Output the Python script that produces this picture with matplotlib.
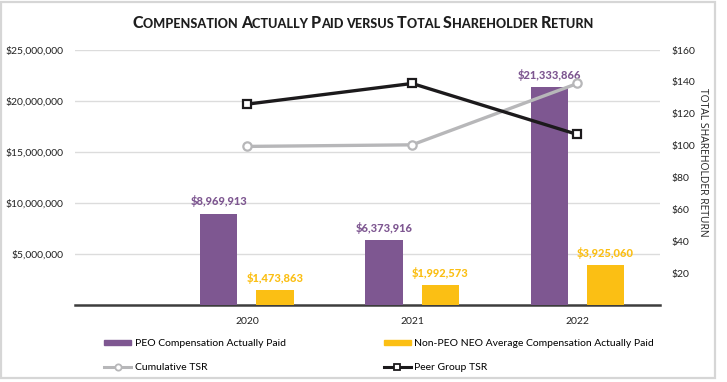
import matplotlib
matplotlib.use("Agg")
import matplotlib.pyplot as plt
from matplotlib.lines import Line2D
from matplotlib.patches import Patch, Rectangle
import matplotlib.ticker as mticker
import numpy as np

years = ["2020", "2021", "2022"]
peo_cap = [8969913, 6373916, 21333866]
neo_cap = [1473863, 1992573, 3925060]
cumulative_tsr = [99.5, 100.5, 139]
peer_tsr = [126, 139, 107]
left_ticks = [5000000, 10000000, 15000000, 20000000, 25000000]
right_ticks = [20, 40, 60, 80, 100, 120, 140, 160]

PURPLE = "#7e5791"
YELLOW = "#fbbf14"
GREY = "#b7b7b9"
BLACK = "#1c1a1c"
FONT = "Lato"

plt.rcParams["font.family"] = [FONT, "DejaVu Sans"]

W, H = 727, 382
fig = plt.figure(figsize=(W / 100, H / 100), dpi=100)

def px(x0, y0, x1, y1):
    return [x0 / W, 1 - y1 / H, (x1 - x0) / W, (y1 - y0) / H]

ax = fig.add_axes(px(75, 50, 660, 305))
ax2 = ax.twinx()

x = np.arange(len(years))
bw = 0.225
off = 0.17
ax.bar(x - off, peo_cap, bw, color=PURPLE, zorder=3)
ax.bar(x + off, neo_cap, bw, color=YELLOW, zorder=3)
for xi, v in zip(x, peo_cap):
    ax.text(xi - off, v + 600000, f"${v:,.0f}", ha="center", va="bottom",
            fontsize=8, fontweight="black", color=PURPLE, zorder=4)
for xi, v in zip(x, neo_cap):
    ax.text(xi + off, v + 600000, f"${v:,.0f}", ha="center", va="bottom",
            fontsize=8, fontweight="black", color=YELLOW, zorder=4)

ax.set_xlim(-1.04, 2.5)
ax.set_ylim(0, 25000000)
ax.set_yticks(left_ticks)
ax.yaxis.set_major_formatter(mticker.FuncFormatter(lambda v, p: f"${v:,.0f}"))
ax.set_xticks(x)
ax.set_xticklabels(years)
ax.grid(axis="y", color="#dcdcdc", linewidth=1.0, zorder=0)
ax.set_axisbelow(True)
for s in ["top", "right", "left"]:
    ax.spines[s].set_visible(False)
ax.spines["bottom"].set_color("#3d3d3d")
ax.spines["bottom"].set_linewidth(1.8)
ax.tick_params(axis="both", length=0, labelsize=7.5, colors="#222222")
ax.tick_params(axis="y", pad=8)
ax.tick_params(axis="x", pad=9)

ax2.plot(x, cumulative_tsr, color=GREY, lw=2.4, marker="o", ms=6,
         mfc="white", mec=GREY, mew=1.6, zorder=5)
ax2.plot(x, peer_tsr, color=BLACK, lw=2.4, marker="s", ms=5.5,
         mfc="white", mec=BLACK, mew=1.6, zorder=6)
ax2.set_ylim(0, 160)
ax2.set_yticks(right_ticks)
ax2.yaxis.set_major_formatter(mticker.FuncFormatter(lambda v, p: f"${v:.0f}"))
ax2.tick_params(axis="y", length=0, labelsize=7.5, colors="#222222", pad=8)
for s in ["top", "right", "left", "bottom"]:
    ax2.spines[s].set_visible(False)
ax.set_zorder(1)
ax2.set_zorder(2)
ax2.patch.set_visible(False)

fig.text(703 / W, 1 - 162 / H, "TOTAL SHAREHOLDER RETURN", rotation=-90,
         ha="center", va="center", fontsize=7.5, color="#222222",
         family=["Open Sans", "DejaVu Sans"])

handles = [
    Patch(color=PURPLE),
    Line2D([], [], color=GREY, lw=2.2, marker="o", ms=4.5, mfc="white", mec=GREY, mew=1.3),
    Patch(color=YELLOW),
    Line2D([], [], color=BLACK, lw=2.2, marker="s", ms=4.5, mfc="white", mec=BLACK, mew=1.3),
]
labels = ["PEO Compensation Actually Paid", "Cumulative TSR",
          "Non-PEO NEO Average Compensation Actually Paid", "Peer Group TSR"]
fig.legend(handles, labels, loc="upper left", bbox_to_anchor=(104 / W, 1 - 339 / H),
           ncol=2, frameon=False, fontsize=7.5, handlelength=2.6, handleheight=0.35,
           handletextpad=0.35, columnspacing=9.4, labelspacing=1.45,
           borderaxespad=0, borderpad=0)

# Small-caps title
title_words = [("C", "OMPENSATION"), ("A", "CTUALLY"), ("P", "AID"), ("", "VERSUS"),
               ("T", "OTAL"), ("S", "HAREHOLDER"), ("R", "ETURN")]
big, small = 11.5, 9.1
renderer = fig.canvas.get_renderer()
pieces = []
for i, (a, b) in enumerate(title_words):
    if a:
        pieces.append((a, big))
    pieces.append((b + (" " if i < len(title_words) - 1 else ""), small))
texts = []
widths = []
for s, fs in pieces:
    t = fig.text(0, 1 - 28 / H, s, fontsize=fs, fontweight="black", color="#1e1e1e",
                 ha="left", va="baseline")
    texts.append(t)
    widths.append(t.get_window_extent(renderer).width)
total = sum(widths)
xstart = 363 - total / 2
cur = xstart
for t, w in zip(texts, widths):
    t.set_x(cur / W)
    cur += w

fig.patches.append(Rectangle((1 / W, 1 - 378 / H), 714 / W, 376 / H, transform=fig.transFigure,
                             fill=False, edgecolor="#d6d6d6", lw=1.6))

fig.savefig("out.png", dpi=100)
